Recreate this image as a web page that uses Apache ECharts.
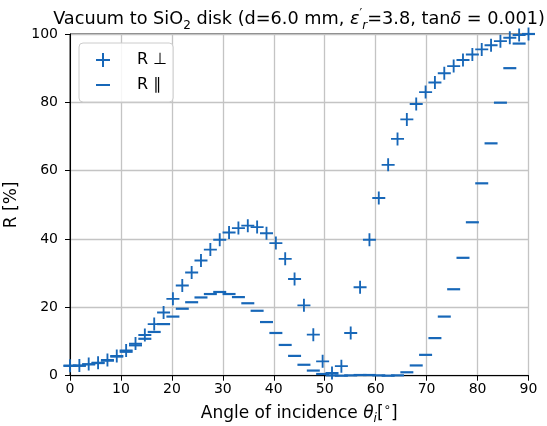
<!DOCTYPE html>
<html>
<head>
<meta charset="utf-8">
<script src="https://cdn.jsdelivr.net/npm/echarts@6/dist/echarts.min.js"></script>
<style>
html,body{margin:0;padding:0;background:#fff;}
#chart{width:547px;height:426px;}
</style>
</head>
<body>
<div id="chart"></div>
<script>
// Angle of incidence (degrees)
const angles = [0, 1.84, 3.67, 5.51, 7.35, 9.18, 11.02, 12.86, 14.69, 16.53,
  18.37, 20.20, 22.04, 23.88, 25.71, 27.55, 29.39, 31.22, 33.06, 34.90,
  36.73, 38.57, 40.41, 42.24, 44.08, 45.92, 47.76, 49.59, 51.43, 53.27,
  55.10, 56.94, 58.78, 60.61, 62.45, 64.29, 66.12, 67.96, 69.80, 71.63,
  73.47, 75.31, 77.14, 78.98, 80.82, 82.65, 84.49, 86.33, 88.16, 90];
// R perpendicular [%]
const rPerp = [2.9, 3.0, 3.4, 3.8, 4.6, 5.8, 7.4, 9.4, 11.9, 15.1,
  18.5, 22.5, 26.4, 30.2, 33.7, 36.9, 39.8, 41.9, 43.2, 43.9,
  43.5, 41.7, 38.8, 34.2, 28.3, 20.6, 12.0, 4.2, 0.8, 2.8,
  12.5, 25.9, 39.8, 52.0, 61.7, 69.3, 75.0, 79.5, 83.0, 85.8,
  88.5, 90.6, 92.4, 94.0, 95.5, 96.7, 97.9, 98.9, 99.7, 100];
// R parallel [%]
const rPar = [2.9, 2.9, 3.3, 3.7, 4.4, 5.6, 7.0, 8.9, 10.8, 12.8,
  15.1, 17.3, 19.6, 21.5, 22.9, 23.9, 24.5, 23.9, 23.0, 21.2,
  19.0, 15.7, 12.5, 9.0, 5.8, 3.2, 1.5, 0.5, 0.1, 0.0,
  0.1, 0.2, 0.2, 0.1, 0.0, 0.1, 1.0, 3.0, 6.1, 11.0,
  17.3, 25.3, 34.5, 44.9, 56.3, 68.0, 79.9, 90.0, 97.2, 100];
const xTicks = [0, 10, 20, 30, 40, 50, 60, 70, 80, 90];
const yTicks = [0, 20, 40, 60, 80, 100];
const seriesNames = ['R \u22a5', 'R \u2225'];

const BLUE = '#1767b8';
const FONT = 'DejaVu Sans';
const plusPath = 'path://M0,6L14,6L14,8L0,8Z M6,0L8,0L8,14L6,14Z';
const minusPath = 'path://M0,0L14,0L14,2L0,2Z';
// legend icon versions with a square bounding box (tiny corner points)
const minusIcon = 'path://M0,0L0.01,0L0,0.01Z M0,6L14,6L14,8L0,8Z M14,14L13.99,14L14,13.99Z';

const chart = echarts.init(document.getElementById('chart'), null, {renderer: 'canvas'});

function rich(fs) {
  const sm = Math.round(fs * 0.7);
  return {
    a: {fontFamily: FONT, fontSize: fs, fontWeight: 'normal', color: '#000', lineHeight: fs + 6, verticalAlign: 'middle'},
    i: {fontFamily: FONT, fontSize: fs, fontWeight: 'normal', fontStyle: 'italic', color: '#000', lineHeight: fs + 6, verticalAlign: 'middle'},
    s: {fontFamily: FONT, fontSize: sm, fontWeight: 'normal', color: '#000', lineHeight: sm, verticalAlign: 'bottom'},
    si: {fontFamily: FONT, fontSize: sm, fontWeight: 'normal', fontStyle: 'italic', color: '#000', lineHeight: sm, verticalAlign: 'bottom'},
    p: {fontFamily: FONT, fontSize: sm, fontWeight: 'normal', color: '#000', lineHeight: sm, verticalAlign: 'top'}
  };
}

chart.setOption({
  animation: false,
  backgroundColor: '#fff',
  title: {
    text: '{a|Vacuum to SiO}{s|2}{a| disk (d=6.0 mm, }{i|\u03b5}{p|\u2032}{si|r}{a|=3.8, tan}{i|\u03b4}{a| = 0.001)}',
    left: 299,
    textAlign: 'center',
    top: 8,
    padding: 0,
    textStyle: {fontWeight: 'normal', rich: rich(17.7)}
  },
  legend: {
    orient: 'vertical',
    left: 79,
    top: 43,
    padding: [9, 6, 9, 17],
    itemGap: 9,
    itemWidth: 14,
    itemHeight: 14,
    backgroundColor: 'rgba(255,255,255,0.85)',
    borderColor: '#cccccc',
    borderWidth: 1,
    borderRadius: 4,
    textStyle: {fontFamily: FONT, fontSize: 16, color: '#000', lineHeight: 16, padding: [0, 0, 0, 22]},
    data: [
      {name: seriesNames[0], icon: plusPath, itemStyle: {color: BLUE}},
      {name: seriesNames[1], icon: minusIcon, itemStyle: {color: BLUE}}
    ]
  },
  grid: {
    left: 70, right: 18.5, top: 34, bottom: 50.3,
    outerBoundsMode: 'none',
    containLabel: false,
    show: true, borderColor: '#000', borderWidth: 1, backgroundColor: 'transparent'
  },
  xAxis: {
    type: 'value',
    min: xTicks[0], max: xTicks[xTicks.length - 1], interval: 10,
    name: '{a|Angle of incidence }{i|\u03b8}{si|i}{a|[}{p|\u2218}{a|]}',
    nameLocation: 'middle',
    nameGap: 24,
    nameTextStyle: {rich: rich(17)},
    axisLine: {show: true, lineStyle: {color: '#000', width: 1}},
    axisTick: {show: true, inside: false, length: 5, lineStyle: {color: '#000'}},
    axisLabel: {fontFamily: FONT, fontSize: 14, color: '#000', margin: 7},
    splitLine: {show: true, lineStyle: {color: '#c4c4c4', width: 1.3}}
  },
  yAxis: {
    type: 'value',
    min: yTicks[0], max: yTicks[yTicks.length - 1], interval: 20,
    name: 'R [%]',
    nameLocation: 'middle',
    nameGap: 41,
    nameTextStyle: {fontFamily: FONT, fontSize: 17, color: '#000'},
    axisLine: {show: true, lineStyle: {color: '#000', width: 1}},
    axisTick: {show: true, inside: false, length: 5, lineStyle: {color: '#000'}},
    axisLabel: {fontFamily: FONT, fontSize: 14, color: '#000', margin: 12},
    splitLine: {show: true, lineStyle: {color: '#c4c4c4', width: 1.3}}
  },
  series: [
    {
      name: seriesNames[0],
      type: 'scatter',
      symbol: plusPath,
      symbolSize: 13,
      itemStyle: {color: BLUE, opacity: 1},
      data: angles.map((a, k) => [a, rPerp[k]]),
      z: 3
    },
    {
      name: seriesNames[1],
      type: 'scatter',
      symbol: minusPath,
      symbolSize: [13, 2.2],
      itemStyle: {color: BLUE, opacity: 1},
      data: angles.map((a, k) => [a, rPar[k]]),
      z: 4
    }
  ]
});
</script>
</body>
</html>
